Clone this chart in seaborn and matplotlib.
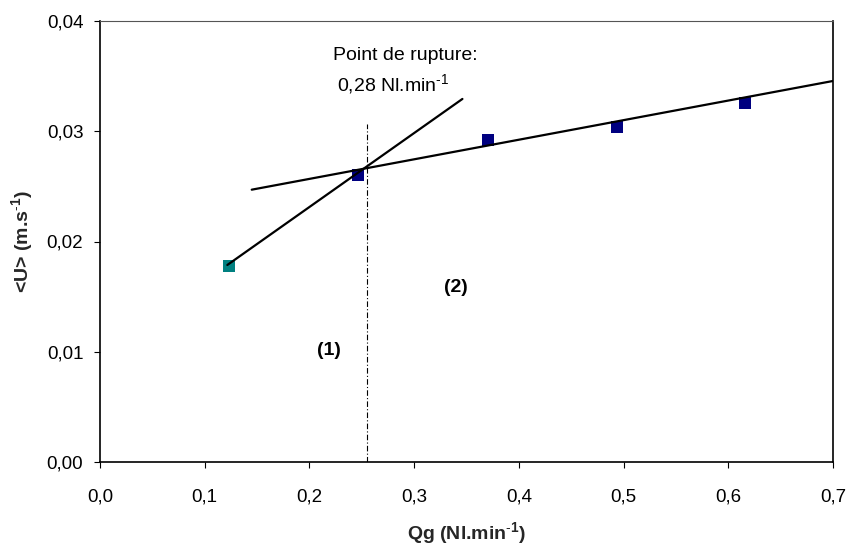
import matplotlib
matplotlib.use("Agg")
import matplotlib.pyplot as plt
from matplotlib.ticker import FuncFormatter
import seaborn as sns
import pandas as pd

# Mean liquid velocity versus gas flow rate
qg_points = [0.1232, 0.2464, 0.3706, 0.4938, 0.6160]
u_points = [0.01778, 0.02603, 0.02923, 0.03040, 0.03256]
point_regime = ["first", "second", "second", "second", "second"]

# Two linear trends (regime 1 and regime 2)
trend1_x = [0.1216, 0.3461]
trend1_y = [0.01787, 0.03293]
trend2_x = [0.1449, 0.7000]
trend2_y = [0.02470, 0.03456]

# Break point marker
break_x = 0.255
break_top = 0.0307

x_ticks = [0.0, 0.1, 0.2, 0.3, 0.4, 0.5, 0.6, 0.7]
y_ticks = [0.00, 0.01, 0.02, 0.03, 0.04]

sns.set_theme(style="white")
plt.rcParams["font.family"] = ["Liberation Sans", "DejaVu Sans"]
plt.rcParams["mathtext.fontset"] = "custom"
plt.rcParams["mathtext.rm"] = "Liberation Sans"
plt.rcParams["mathtext.bf"] = "Liberation Sans:bold"

fig = plt.figure(figsize=(8.49, 5.48), dpi=100)
ax = fig.add_axes([100 / 849, 86 / 548, 733 / 849, 441 / 548])

points = pd.DataFrame({"qg": qg_points, "u": u_points, "regime": point_regime})
t1 = pd.DataFrame({"qg": trend1_x, "u": trend1_y})
t2 = pd.DataFrame({"qg": trend2_x, "u": trend2_y})

sns.lineplot(data=t1, x="qg", y="u", ax=ax, color="black", linewidth=1.6, zorder=3)
sns.lineplot(data=t2, x="qg", y="u", ax=ax, color="black", linewidth=1.6, zorder=3)
ax.plot([break_x, break_x], [0, break_top], color="black", linewidth=0.8,
        linestyle=(0, (5, 2, 1, 2)), zorder=2)
sns.scatterplot(data=points, x="qg", y="u", hue="regime",
                palette={"first": "#008080", "second": "#000080"},
                marker="s", s=80, edgecolor="none", legend=False, ax=ax, zorder=2)

ax.set_xlim(0, 0.7)
ax.set_ylim(0, 0.04)
ax.set_xticks(x_ticks)
ax.set_yticks(y_ticks)
ax.xaxis.set_major_formatter(FuncFormatter(lambda v, p: f"{v:.1f}".replace(".", ",")))
ax.yaxis.set_major_formatter(FuncFormatter(lambda v, p: f"{v:.2f}".replace(".", ",")))
ax.tick_params(axis="both", which="major", direction="out", length=4, width=0.8,
               color="black", labelsize=13.5, labelcolor="black",
               bottom=True, left=True)
ax.tick_params(axis="x", pad=15)
ax.tick_params(axis="y", pad=8)

for side in ["left", "bottom", "right"]:
    ax.spines[side].set_color("black")
    ax.spines[side].set_linewidth(1.2)
ax.spines["top"].set_color("#555555")
ax.spines["top"].set_linewidth(0.8)

ax.set_xlabel(r"Qg (Nl.min$^{\mathbf{\text{-}1}}$)", fontsize=14, fontweight="bold", labelpad=11)
ax.set_ylabel(r"<U> (m.s$^{\mathbf{\text{-}1}}$)", fontsize=14, fontweight="bold", labelpad=8)

ax.text(0.2913, 0.0369, "Point de rupture:", fontsize=14, ha="center", va="center", color="black")
ax.text(0.2798, 0.0342, r"0,28 Nl.min$^{\text{-}1}$", fontsize=14, ha="center", va="center", color="black")
ax.text(0.219, 0.0101, "(1)", fontsize=14, fontweight="bold", ha="center", va="center", color="black")
ax.text(0.340, 0.0158, "(2)", fontsize=14, fontweight="bold", ha="center", va="center", color="black")

fig.savefig("out.png", dpi=100, facecolor="white")
